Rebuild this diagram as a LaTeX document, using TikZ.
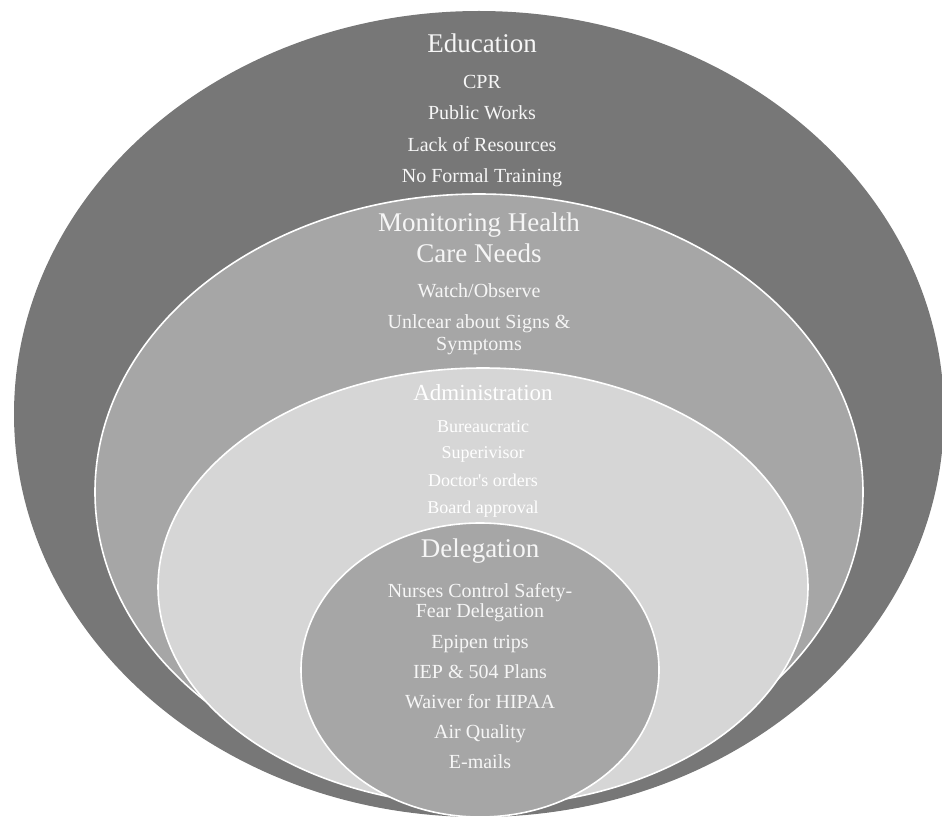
\documentclass[tikz,border=0pt]{standalone}
\usepackage{fontspec}
\setmainfont{Liberation Serif}[Ligatures=TeXOff]
\definecolor{ringA}{HTML}{777777}
\definecolor{ringB}{HTML}{A6A6A6}
\definecolor{ringC}{HTML}{D6D6D6}
\definecolor{txt}{HTML}{F6F6F6}
\begin{document}
\begin{tikzpicture}[x=1pt,y=-1pt,
  ring/.style={draw=white,line width=1.6pt},
  ttl/.style={text=txt,anchor=base,inner sep=0pt,font=\fontsize{27}{30}\selectfont},
  itm/.style={text=txt,anchor=base,inner sep=0pt,font=\fontsize{20}{22}\selectfont},
  itms/.style={text=txt,anchor=base,inner sep=0pt,font=\fontsize{18}{20}\selectfont}]
\useasboundingbox (0,0) rectangle (942,821);
\fill[ringA] (479,414) ellipse [x radius=465, y radius=403];
\fill[ringB,ring] (479,492) ellipse [x radius=384, y radius=298];
\fill[ringC,ring] (483,587) ellipse [x radius=325, y radius=219];
\fill[ringB,ring] (480,670) ellipse [x radius=179, y radius=147];
% Education
\node[ttl] (edu) at (482,53) {Education};
\node[itm] (cpr) at (482,89) {CPR};
\node[itm] (pw) at (482,120) {Public Works};
\node[itm] (lr) at (482,152) {Lack of Resources};
\node[itm] (nft) at (482,183) {No Formal Training};
% Monitoring
\node[ttl] (mon1) at (479,232) {Monitoring Health};
\node[ttl] (mon2) at (479,262) {Care Needs};
\node[itm] (wo) at (479,297) {Watch/Observe};
\node[itm] (un1) at (479,328) {Unlcear about Signs \&};
\node[itm] (un2) at (479,350) {Symptoms};
% Administration
\node[ttl,text=white,font=\fontsize{23}{26}\selectfont] (adm) at (483,400) {Administration};
\node[itms,text=white] (bur) at (483,432) {Bureaucratic};
\node[itms,text=white] (sup) at (483,458) {Superivisor};
\node[itms,text=white] (doc) at (483,486) {Doctor's orders};
\node[itms,text=white] (brd) at (483,513) {Board approval};
% Delegation
\node[ttl] (del) at (480,557) {Delegation};
\node[itm] (ncs1) at (480,597) {Nurses Control Safety-};
\node[itm] (ncs2) at (480,617) {Fear Delegation};
\node[itm] (epi) at (480,648) {Epipen trips};
\node[itm] (iep) at (480,678) {IEP \& 504 Plans};
\node[itm] (wai) at (480,708) {Waiver for HIPAA};
\node[itm] (air) at (480,738) {Air Quality};
\node[itm] (eml) at (480,768) {E-mails};
\end{tikzpicture}
\end{document}
